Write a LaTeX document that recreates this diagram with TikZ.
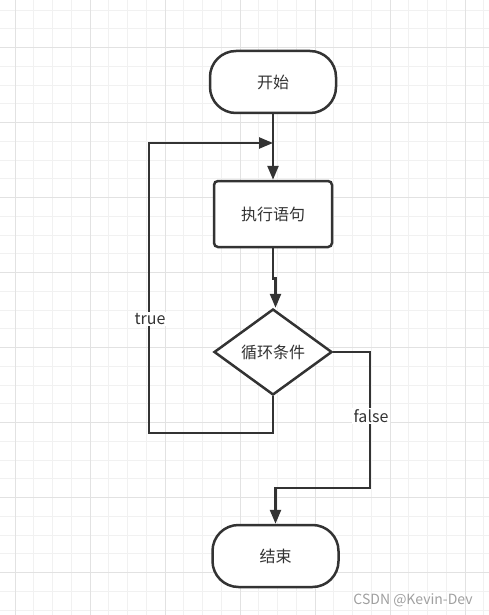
\documentclass[tikz,border=0pt]{standalone}
\usepackage{fontspec}
\setmainfont{Noto Sans CJK SC}
\usetikzlibrary{shapes.geometric,arrows.meta}

\definecolor{ink}{HTML}{333333}
\definecolor{gridminor}{HTML}{F1F1F1}
\definecolor{gridmajor}{HTML}{E2E2E2}
\definecolor{mark}{HTML}{A0A0A0}

\tikzset{
  box/.style={draw=ink, line width=2.5pt, fill=white, text=ink,
    font=\fontsize{16}{19}\selectfont},
  terminal/.style={box, rounded corners=26pt, minimum width=126pt, minimum height=62pt},
  process/.style={box, rounded corners=4pt, minimum width=118pt, minimum height=66pt},
  decision/.style={box, diamond, aspect=1.36, inner sep=0pt, minimum width=118pt, minimum height=86pt},
  flow/.style={draw=ink, line width=2.5pt},
  arr/.style={flow, -{Triangle[length=14pt,width=11pt]}},
  lbl/.style={fill=white, text=ink, inner sep=1.5pt, font=\fontsize{16}{19}\selectfont}
}

\begin{document}
\begin{tikzpicture}[x=1pt,y=-1pt]
\useasboundingbox (0,0) rectangle (489,615);
\fill[white] (0,0) rectangle (489,615);

% grid
\foreach \x in {-3.75,15,...,489} \draw[gridminor, line width=.8pt] (\x,0) -- (\x,615);
\foreach \y in {10,28.75,...,615} \draw[gridminor, line width=.8pt] (0,\y) -- (489,\y);
\foreach \x in {15,90,...,489} \draw[gridmajor, line width=1pt] (\x,0) -- (\x,615);
\foreach \y in {47.5,122.5,...,615} \draw[gridmajor, line width=1pt] (0,\y) -- (489,\y);

\node[terminal] (start) at (273,82) {开始};
\node[process] (exec) at (273,214) {执行语句};
\node[decision] (cond) at (273,352) {循环条件};
\node[terminal] (stop) at (275.5,556) {结束};

\coordinate (join) at (273,143);
\coordinate (loopbot) at (149,433);
\coordinate (falsebot) at (370,488);

\draw[arr] (start) -- (exec);
\draw[arr] (exec.south) -- ++(0,30) -| ([xshift=2.5pt]cond.north);
\draw[arr] (cond.south) |- (loopbot) |- (join);
\draw[arr] (cond.east) -| (falsebot) -| (stop.north);

\node[lbl] (truelbl) at (150,319) {true};
\node[lbl] (falselbl) at (371,416) {false};

\node[text=mark, font=\fontsize{14}{16}\selectfont] (credit) at (413,600) {CSDN @Kevin-Dev};
\end{tikzpicture}
\end{document}
